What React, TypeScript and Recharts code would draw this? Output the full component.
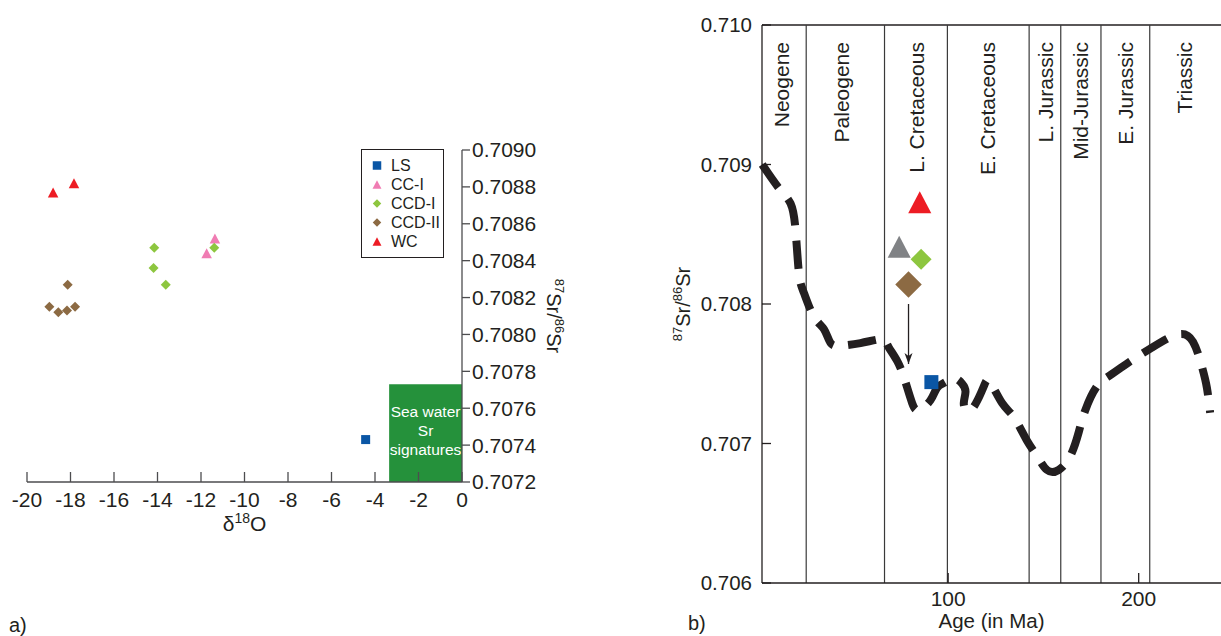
import { ComposedChart, Legend, Line, ReferenceArea, ReferenceDot, ReferenceLine, Scatter, ScatterChart, XAxis, YAxis } from "recharts";

const font = '"Liberation Sans", Arial, Helvetica, sans-serif';
const ink = "#231f20";

// ---- panel a: d18O vs 87Sr/86Sr ----
const lsPoints = [{ d18O: -4.43, sr: 0.70743 }];
const ccIPoints = [
  { d18O: -11.74, sr: 0.70844 },
  { d18O: -11.36, sr: 0.70852 },
];
const ccdIPoints = [
  { d18O: -14.15, sr: 0.70847 },
  { d18O: -14.18, sr: 0.70836 },
  { d18O: -13.62, sr: 0.70827 },
  { d18O: -11.39, sr: 0.70847 },
];
const ccdIIPoints = [
  { d18O: -18.97, sr: 0.70815 },
  { d18O: -18.56, sr: 0.70812 },
  { d18O: -18.16, sr: 0.70813 },
  { d18O: -17.79, sr: 0.70815 },
  { d18O: -18.13, sr: 0.70827 },
];
const wcPoints = [
  { d18O: -18.8, sr: 0.70877 },
  { d18O: -17.84, sr: 0.70882 },
];
const d18OTicks = [-20, -18, -16, -14, -12, -10, -8, -6, -4, -2, 0];
const srTicksA = [0.7072, 0.7074, 0.7076, 0.7078, 0.708, 0.7082, 0.7084, 0.7086, 0.7088, 0.709];
const seaWaterRange = [-3.35, 0];
const seaWaterSr = [0.7072, 0.70773];
const seaWaterText = ["Sea water", "Sr", "signatures"];

const seriesA = [
  { name: "LS", kind: "square", color: "#0a56a5", data: lsPoints },
  { name: "CC-I", kind: "triangle", color: "#f07cb3", data: ccIPoints },
  { name: "CCD-I", kind: "diamond", color: "#8dc63f", data: ccdIPoints },
  { name: "CCD-II", kind: "diamond", color: "#8c6a43", data: ccdIIPoints },
  { name: "WC", kind: "triangle", color: "#ed1c24", data: wcPoints },
];

// ---- panel b: seawater Sr curve through time ----
const curveAge = [
  2.4, 11.2, 17.3, 19.9, 21.7, 24.3, 29.5, 34.8, 38.3, 43.5, 54.0, 65.4, 68.0, 73.3, 77.6, 81.1, 84.6,
  90.7, 94.2, 98.6, 102.9, 107.3, 109.1, 108.2, 109.5, 112.0, 115.4, 119.0, 122.0, 128.3, 134.4,
  141.4, 146.7, 151.9, 158.0, 164.1, 168.5, 172.0, 178.1, 185.1, 195.6, 206.1, 220.0, 228.5, 233.2,
  235.8, 237.5,
];
const curveSr = [
  0.709, 0.70883, 0.70872, 0.70853, 0.70822, 0.70808, 0.70791, 0.70782, 0.70772, 0.7077, 0.70772,
  0.70775, 0.70771, 0.70759, 0.70744, 0.70729, 0.70724, 0.70731, 0.7074, 0.70744, 0.70747, 0.70743,
  0.70737, 0.70729, 0.70724, 0.70724, 0.70731, 0.70742, 0.70744, 0.70729, 0.70719, 0.70702, 0.70691,
  0.70681, 0.70681, 0.70691, 0.70708, 0.70724, 0.70741, 0.70749, 0.70759, 0.70768, 0.70778, 0.70773,
  0.70755, 0.7074, 0.70722,
];
const curve = curveAge.map((age, i) => ({ age, value: curveSr[i] }));

const periodBounds = [25.5, 66.6, 99.6, 142.5, 159.1, 180.2, 205.8];
const periodNames = ["Neogene", "Paleogene", "L. Cretaceous", "E. Cretaceous", "L. Jurassic", "Mid-Jurassic", "E. Jurassic", "Triassic"];
const periodCenters = [12.7, 43.8, 83.3, 120.7, 150.9, 169.7, 193.3, 223.9];

const bWC = [{ age: 85.1, value: 0.70873 }];
const bGray = [{ age: 74.3, value: 0.70841 }];
const bCCDI = [{ age: 85.8, value: 0.70832 }];
const bCCDII = [{ age: 79.2, value: 0.70814 }];
const bLS = [{ age: 91.2, value: 0.70744 }];
const arrowAge = 79.2;
const arrowSr = [0.708, 0.70757];

const ageTicks = [100, 200];
const srTicksB = [0.706, 0.707, 0.708, 0.709, 0.71];

function Marker({ cx, cy, kind, size, fill }: any) {
  if (cx == null || cy == null) return null;
  const h = size / 2;
  if (kind === "square") return <rect x={cx - h} y={cy - h} width={size} height={size} fill={fill} />;
  if (kind === "triangle")
    return <polygon points={`${cx},${cy - h} ${cx + h * 1.05},${cy + h} ${cx - h * 1.05},${cy + h}`} fill={fill} />;
  return <polygon points={`${cx},${cy - h} ${cx + h},${cy} ${cx},${cy + h} ${cx - h},${cy}`} fill={fill} />;
}

function SrRatio({ size, sup }: { size: number; sup: number }) {
  const up = size * 0.4;
  return (
    <>
      <tspan fontSize={sup} dy={-up}>87</tspan>
      <tspan fontSize={size} dy={up}>Sr/</tspan>
      <tspan fontSize={sup} dy={-up}>86</tspan>
      <tspan fontSize={size} dy={up}>Sr</tspan>
    </>
  );
}

function LegendBox() {
  return (
    <div style={{ border: `1.3px solid ${ink}`, width: 83, height: 109, boxSizing: "border-box", paddingTop: 6, fontFamily: font, fontSize: 16, color: ink, background: "#fff" }}>
      {seriesA.map((s) => (
        <div key={s.name} style={{ display: "flex", alignItems: "center", height: 19, lineHeight: "19px" }}>
          <svg width={29} height={19}>
            <Marker cx={15} cy={9.5} kind={s.kind} size={8.5} fill={s.color} />
          </svg>
          <span>{s.name}</span>
        </div>
      ))}
    </div>
  );
}

function PanelA() {
  return (
    <ScatterChart width={620} height={636} margin={{ top: 150, right: 58, bottom: 114, left: 27 }}>
      <XAxis
        type="number"
        dataKey="d18O"
        domain={[-20, 0]}
        ticks={d18OTicks}
        interval={0}
        tickSize={-10}
        tickMargin={20}
        height={40}
        stroke="#4d4d4f"
        strokeWidth={1.3}
        tick={{ fill: ink, fontSize: 21, fontFamily: font }}
        label={(p: any) => {
          const vb = p.viewBox;
          return (
            <text x={vb.x + vb.width / 2} y={vb.y + 49} textAnchor="middle" fill={ink} fontFamily={font} fontSize={21}>
              δ<tspan fontSize={14} dy={-8}>18</tspan>
              <tspan fontSize={21} dy={8}>O</tspan>
            </text>
          );
        }}
      />
      <YAxis
        type="number"
        dataKey="sr"
        orientation="right"
        domain={[0.7072, 0.709]}
        ticks={srTicksA}
        interval={0}
        width={100}
        tickSize={8}
        tickMargin={2}
        stroke="#4d4d4f"
        strokeWidth={1.3}
        tickFormatter={(v: number) => v.toFixed(4)}
        tick={{ fill: ink, fontSize: 21, fontFamily: font }}
        label={(p: any) => {
          const vb = p.viewBox;
          const x = vb.x + 85;
          const y = vb.y + vb.height / 2;
          return (
            <text x={x} y={y} transform={`rotate(90 ${x} ${y})`} textAnchor="middle" fill={ink} fontFamily={font}>
              <SrRatio size={20} sup={13} />
            </text>
          );
        }}
      />
      <ReferenceArea
        x1={seaWaterRange[0]}
        x2={seaWaterRange[1]}
        y1={seaWaterSr[0]}
        y2={seaWaterSr[1]}
        fill="#25913b"
        fillOpacity={1}
        stroke="none"
        label={(p: any) => {
          const vb = p.viewBox;
          const cx = vb.x + vb.width / 2;
          return (
            <g>
              {seaWaterText.map((t, i) => (
                <text key={t} x={cx} y={vb.y + 33 + i * 19} textAnchor="middle" fill="#fff" fontFamily={font} fontSize={15.5}>
                  {t}
                </text>
              ))}
            </g>
          );
        }}
      />
      {seriesA.map((s) => (
        <Scatter
          key={s.name}
          name={s.name}
          data={s.data}
          fill={s.color}
          isAnimationActive={false}
          shape={(p: any) => <Marker cx={p.cx} cy={p.cy} kind={s.kind} size={s.kind === "square" ? 9 : 10} fill={s.color} />}
        />
      ))}
      <Legend
        layout="vertical"
        align="center"
        verticalAlign="middle"
        content={() => <LegendBox />}
        wrapperStyle={{ left: 361, top: 149, width: 83, height: 109, bottom: "auto", right: "auto" }}
      />
    </ScatterChart>
  );
}

function PanelB() {
  return (
    <ComposedChart width={621} height={636} margin={{ top: 25, right: 0, bottom: 13, left: 72 }}>
      <XAxis
        type="number"
        dataKey="age"
        domain={[2.3, 243.2]}
        ticks={ageTicks}
        interval={0}
        tickSize={-10}
        tickMargin={18}
        height={40}
        stroke={ink}
        strokeWidth={1.3}
        tick={{ fill: ink, fontSize: 21, fontFamily: font }}
        label={(p: any) => {
          const vb = p.viewBox;
          return (
            <text x={vb.x + vb.width / 2} y={vb.y + 45} textAnchor="middle" fill={ink} fontFamily={font} fontSize={20.5}>
              Age (in Ma)
            </text>
          );
        }}
      />
      <YAxis
        type="number"
        dataKey="value"
        domain={[0.706, 0.71]}
        ticks={srTicksB}
        interval={0}
        width={90}
        tickSize={-9}
        tickMargin={19}
        stroke={ink}
        strokeWidth={1.3}
        tickFormatter={(v: number) => v.toFixed(3)}
        tick={{ fill: ink, fontSize: 20.5, fontFamily: font }}
        label={(p: any) => {
          const vb = p.viewBox;
          const x = vb.x + 18;
          const y = vb.y + vb.height / 2;
          return (
            <text x={x} y={y} transform={`rotate(-90 ${x} ${y})`} textAnchor="middle" fill={ink} fontFamily={font}>
              <SrRatio size={20} sup={13} />
            </text>
          );
        }}
      />
      <ReferenceLine y={0.71} stroke={ink} strokeWidth={1.3} />
      {periodBounds.map((b) => (
        <ReferenceLine key={b} x={b} stroke="#3a3a3a" strokeWidth={1.2} />
      ))}
      {periodNames.map((name, i) => (
        <ReferenceDot
          key={name}
          x={periodCenters[i]}
          y={0.71}
          r={0}
          shape={(p: any) => {
            const x = p.cx + 7.5;
            const y = p.cy + 17;
            return (
              <text x={x} y={y} transform={`rotate(-90 ${x} ${y})`} textAnchor="end" fill={ink} fontFamily={font} fontSize={21}>
                {name}
              </text>
            );
          }}
        />
      ))}
      <Line
        data={curve}
        dataKey="value"
        type="natural"
        stroke={ink}
        strokeWidth={8}
        strokeDasharray="28 15"
        dot={false}
        activeDot={false}
        isAnimationActive={false}
      />
      <Scatter data={bGray} fill="#808285" isAnimationActive={false} shape={(p: any) => <Marker cx={p.cx} cy={p.cy} kind="triangle" size={22} fill="#808285" />} />
      <Scatter data={bWC} fill="#ed1c24" isAnimationActive={false} shape={(p: any) => <Marker cx={p.cx} cy={p.cy} kind="triangle" size={22} fill="#ed1c24" />} />
      <Scatter data={bCCDI} fill="#8dc63f" isAnimationActive={false} shape={(p: any) => <Marker cx={p.cx} cy={p.cy} kind="diamond" size={21} fill="#8dc63f" />} />
      <Scatter data={bCCDII} fill="#8c6a43" isAnimationActive={false} shape={(p: any) => <Marker cx={p.cx} cy={p.cy} kind="diamond" size={26.5} fill="#8c6a43" />} />
      <Scatter data={bLS} fill="#0a56a5" isAnimationActive={false} shape={(p: any) => <Marker cx={p.cx} cy={p.cy} kind="square" size={14} fill="#0a56a5" />} />
      <ReferenceLine
        segment={[
          { x: arrowAge, y: arrowSr[0] },
          { x: arrowAge, y: arrowSr[1] },
        ]}
        stroke={ink}
        strokeWidth={1.3}
      />
      <ReferenceDot
        x={arrowAge}
        y={arrowSr[1]}
        r={0}
        shape={(p: any) => <polygon points={`${p.cx},${p.cy} ${p.cx + 4},${p.cy - 11} ${p.cx},${p.cy - 8} ${p.cx - 4},${p.cy - 11}`} fill={ink} />}
      />
    </ComposedChart>
  );
}

export default function App() {
  return (
    <div style={{ position: "fixed", left: 0, top: 0, width: 1221, height: 636, overflow: "hidden", background: "#fff", fontFamily: font }}>
      <div style={{ position: "absolute", left: 0, top: 0 }}>
        <PanelA />
      </div>
      <div style={{ position: "absolute", left: 600, top: 0 }}>
        <PanelB />
      </div>
      <div style={{ position: "absolute", left: 9, top: 614, fontSize: 20, color: ink, lineHeight: "23px" }}>a)</div>
      <div style={{ position: "absolute", left: 688, top: 612, fontSize: 20, color: ink, lineHeight: "23px" }}>b)</div>
    </div>
  );
}
